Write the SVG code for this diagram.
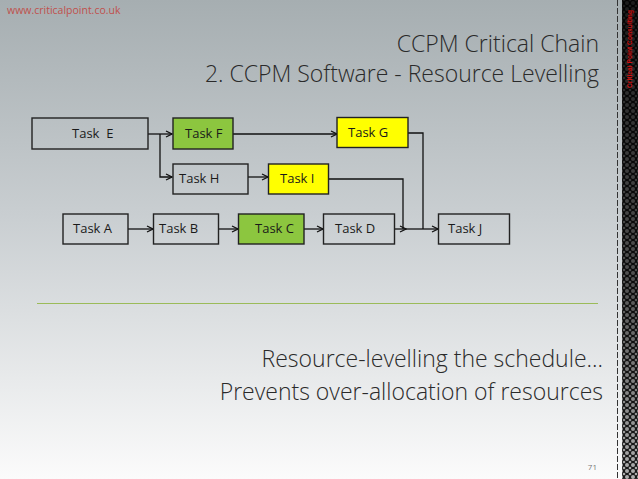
<svg xmlns="http://www.w3.org/2000/svg" width="638" height="479" viewBox="0 0 638 479">
<style>
.box{stroke:#222;stroke-width:1.4}
.g{fill:#8cc63f}.y{fill:#ffff00}.n{fill:none}
.t{font-family:"Open Sans","Noto Sans",sans-serif;font-size:13px;fill:#1a1a1a}
.c{stroke:#111;stroke-width:1.3;fill:none}
.title{font-family:"Open Sans","Noto Sans",sans-serif;font-weight:300;font-size:23px;fill:#2a2a2a;text-anchor:end}
</style>
<defs>
<linearGradient id="bg" x1="0" y1="0" x2="0" y2="1">
<stop offset="0" stop-color="#a6aeb1"/>
<stop offset="0.45" stop-color="#c9ced1"/>
<stop offset="1" stop-color="#fbfbfb"/>
</linearGradient>
<linearGradient id="strip" x1="0" y1="0" x2="0" y2="1">
<stop offset="0" stop-color="#000" stop-opacity="0.85"/>
<stop offset="0.6" stop-color="#000" stop-opacity="0.55"/>
<stop offset="1" stop-color="#000" stop-opacity="0.05"/>
</linearGradient>
<pattern id="dots" width="6" height="6" patternUnits="userSpaceOnUse">
<rect width="6" height="6" fill="#1a1a1a"/>
<circle cx="3" cy="3" r="2" fill="#b8b8b8"/>
<circle cx="0" cy="0" r="1.3" fill="#b8b8b8"/>
<circle cx="6" cy="0" r="1.3" fill="#b8b8b8"/>
<circle cx="0" cy="6" r="1.3" fill="#b8b8b8"/>
<circle cx="6" cy="6" r="1.3" fill="#b8b8b8"/>
</pattern>
<marker id="ah" markerWidth="8" markerHeight="8" refX="7" refY="4" orient="auto" markerUnits="userSpaceOnUse">
<path d="M1,1 L7,4 L1,7" fill="none" stroke="#111" stroke-width="1.3"/>
</marker>
</defs>
<rect width="638" height="479" fill="url(#bg)"/>
<rect x="622" y="0" width="16" height="479" fill="url(#dots)"/>
<rect x="622" y="0" width="16" height="479" fill="url(#strip)"/>
<line x1="617.5" y1="0" x2="617.5" y2="479" stroke="#333" stroke-width="1" stroke-dasharray="6,2"/>
<text x="632" y="88" transform="rotate(-90 632 88)" font-family="Liberation Sans,Arial,sans-serif" font-size="7.5" font-weight="bold" fill="#d01010" textLength="78" lengthAdjust="spacingAndGlyphs">Critical Point Consulting</text>
<text x="7" y="14" font-family="Open Sans,Noto Sans,sans-serif" font-size="10.5" fill="#c0504d">www.criticalpoint.co.uk</text>
<text class="title" x="599" y="52">CCPM Critical Chain</text>
<text class="title" x="599" y="82">2. CCPM Software - Resource Levelling</text>

<g id="connectors">
<path class="c" d="M148,134 H172" marker-end="url(#ah)"/>
<path class="c" d="M160,134 V177 H172" marker-end="url(#ah)"/>
<path class="c" d="M233,134 H337" marker-end="url(#ah)"/>
<path class="c" d="M248,177 H268" marker-end="url(#ah)"/>
<path class="c" d="M128,229 H153" marker-end="url(#ah)"/>
<path class="c" d="M218,229 H238" marker-end="url(#ah)"/>
<path class="c" d="M304,229 H323" marker-end="url(#ah)"/>
<path class="c" d="M395,229 H406" marker-end="url(#ah)"/>
<path class="c" d="M406,229 H438" marker-end="url(#ah)"/>
<path class="c" d="M328,179 H403 V229"/>
<path class="c" d="M408,133 H423 V229"/>
</g>

<g id="taskE"><rect class="box n" x="32" y="118" width="116" height="31"/><text class="t" x="72" y="138" xml:space="preserve">Task  E</text></g>
<g id="taskF"><rect class="box g" x="173" y="118" width="60" height="31"/><text class="t" x="185" y="138">Task F</text></g>
<g id="taskG"><rect class="box y" x="337" y="117.5" width="71" height="30"/><text class="t" x="348" y="137">Task G</text></g>
<g id="taskH"><rect class="box n" x="173" y="164" width="75" height="30"/><text class="t" x="179" y="183">Task H</text></g>
<g id="taskI"><rect class="box y" x="268.5" y="164" width="60" height="30"/><text class="t" x="280" y="183">Task I</text></g>
<g id="taskA"><rect class="box n" x="63" y="214" width="65" height="30"/><text class="t" x="73" y="233">Task A</text></g>
<g id="taskB"><rect class="box n" x="153.5" y="214" width="65" height="30"/><text class="t" x="159" y="233">Task B</text></g>
<g id="taskC"><rect class="box g" x="238.5" y="214" width="65.5" height="30"/><text class="t" x="255" y="233">Task C</text></g>
<g id="taskD"><rect class="box n" x="323.5" y="214" width="71" height="30"/><text class="t" x="335" y="233">Task D</text></g>
<g id="taskJ"><rect class="box n" x="438.5" y="214" width="71" height="30"/><text class="t" x="448" y="233">Task J</text></g>

<line x1="37" y1="303.5" x2="598" y2="303.5" stroke="#9bbb59" stroke-width="1"/>
<text class="title" x="603" y="367" font-size="24">Resource-levelling the schedule…</text>
<text class="title" x="603" y="400" font-size="24">Prevents over-allocation of resources</text>
<text x="597" y="470" font-family="Open Sans,Noto Sans,sans-serif" font-size="8" fill="#777" text-anchor="end">71</text>
</svg>
